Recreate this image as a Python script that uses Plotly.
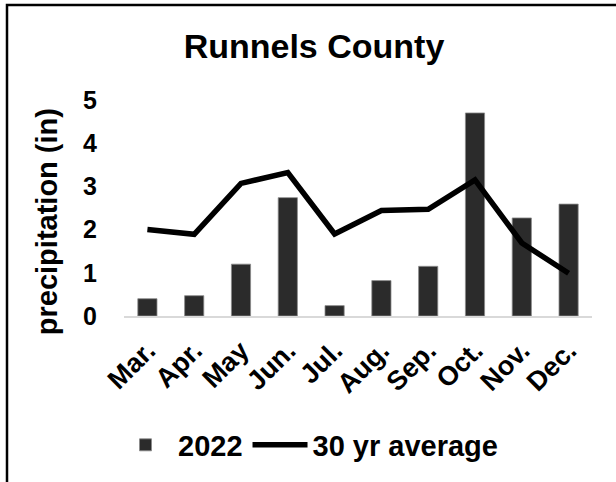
import plotly.graph_objects as go

months = ["Mar.", "Apr.", "May", "Jun.", "Jul.", "Aug.", "Sep.", "Oct.", "Nov.", "Dec."]
precip_2022 = [0.40, 0.47, 1.20, 2.74, 0.24, 0.82, 1.15, 4.70, 2.27, 2.59]
avg_30yr = [2.00, 1.89, 3.07, 3.32, 1.90, 2.44, 2.47, 3.15, 1.69, 0.99]
y_ticks = [0, 1, 2, 3, 4, 5]

FONT = "Liberation Sans, Arial, sans-serif"

fig = go.Figure()
fig.add_trace(go.Bar(
    x=months, y=precip_2022, name="2022",
    marker=dict(color="#2b2b2b", line=dict(color="#8a8a8a", width=0.8)),
))
fig.add_trace(go.Scatter(
    x=months, y=avg_30yr, name="30 yr average", mode="lines",
    line=dict(color="black", width=5.5),
))

fig.update_layout(
    width=616, height=482,
    margin=dict(l=124, r=24, t=100, b=166),
    paper_bgcolor="white", plot_bgcolor="white",
    bargap=0.59,
    font=dict(family=FONT, color="black"),
    title=dict(text="Runnels County", x=314/616, xanchor="center", xref="container",
               y=1-45.8/482, yanchor="middle", yref="container",
               font=dict(size=34, weight="bold", family=FONT, color="black")),
    showlegend=True,
    legend=dict(orientation="h", xref="container", yref="container",
                x=0.5, xanchor="center", y=1-445/482, yanchor="middle",
                font=dict(size=29, weight="bold", family=FONT, color="black"),
                itemwidth=55, traceorder="normal"),
    xaxis=dict(showgrid=False, showline=True, linecolor="#d9d9d9", linewidth=2,
               tickangle=-45, ticks="", ticklabelstandoff=6,
               tickfont=dict(size=27, weight="bold", family=FONT, color="black")),
    yaxis=dict(range=[0, 5], tickvals=y_ticks, showgrid=False, zeroline=False,
               showline=False, ticks="", ticklabelstandoff=26,
               tickfont=dict(size=25, weight="bold", family=FONT, color="black")),
    annotations=[dict(text="precipitation (in)", textangle=-90, xref="paper", yref="paper",
                      x=(46.7-124)/468, y=(316-221.5)/216, xanchor="center", yanchor="middle",
                      showarrow=False,
                      font=dict(size=29, weight="bold", family=FONT, color="black"))],
    shapes=[dict(type="rect", xref="paper", yref="paper",
                 x0=(7-124)/468, x1=1.3, y0=-1.0, y1=(316-5)/216,
                 line=dict(color="black", width=2.5), fillcolor="rgba(0,0,0,0)", layer="below")],
)

fig.write_html("out.html")
